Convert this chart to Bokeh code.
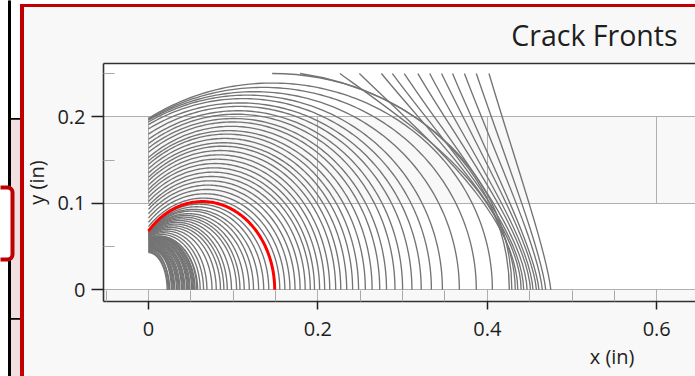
import numpy as np
from bokeh.plotting import figure
from bokeh.layouts import row, column
from bokeh.models import Range1d, FixedTicker, LinearAxis, Title, BoxAnnotation
from bokeh.embed import file_html
from bokeh.resources import INLINE

# ---------------- data (inches) ----------------
THICKNESS = 0.25

# part-through (corner) crack fronts: depth at the bore (x=0), max depth, surface length (y=0)
front_start_y = [
    0.043, 0.044, 0.044, 0.045, 0.045, 0.046, 0.046, 0.047, 0.048, 0.048,
    0.049, 0.049, 0.050, 0.050, 0.051, 0.052, 0.052, 0.053, 0.053, 0.054,
    0.054, 0.055, 0.056, 0.056, 0.057, 0.057, 0.058, 0.058, 0.059, 0.059, 0.060,
    0.060, 0.061, 0.061, 0.062, 0.062, 0.063, 0.063, 0.064, 0.064, 0.065,
    0.065, 0.066, 0.066, 0.066, 0.067, 0.067, 0.068,
    0.068,
    0.073, 0.078, 0.083, 0.088, 0.093, 0.097, 0.102, 0.107, 0.112, 0.116,
    0.121, 0.126, 0.130, 0.135, 0.140, 0.145, 0.149, 0.153, 0.159, 0.164,
    0.169, 0.174, 0.180, 0.186, 0.191, 0.194, 0.196, 0.197, 0.198]
front_peak_y = [
    0.043, 0.044, 0.045, 0.045, 0.046, 0.047, 0.047, 0.048, 0.049, 0.049,
    0.050, 0.051, 0.051, 0.052, 0.053, 0.053, 0.054, 0.055, 0.055, 0.056,
    0.057, 0.057, 0.058, 0.059, 0.059, 0.060, 0.060, 0.061, 0.061, 0.062, 0.062,
    0.064, 0.066, 0.068, 0.070, 0.072, 0.074, 0.076, 0.078, 0.080, 0.082,
    0.084, 0.086, 0.088, 0.091, 0.093, 0.096, 0.099,
    0.102,
    0.106, 0.111, 0.116, 0.121, 0.126, 0.131, 0.136, 0.141, 0.146, 0.151,
    0.156, 0.161, 0.166, 0.170, 0.175, 0.180, 0.184, 0.189, 0.194, 0.198,
    0.203, 0.207, 0.212, 0.216, 0.221, 0.225, 0.229, 0.234, 0.239]
front_end_x = [
    0.022, 0.023, 0.024, 0.025, 0.027, 0.028, 0.029, 0.030, 0.031, 0.033,
    0.034, 0.035, 0.036, 0.037, 0.039, 0.040, 0.041, 0.042, 0.043, 0.045,
    0.046, 0.047, 0.048, 0.049, 0.051, 0.052, 0.053, 0.054, 0.055, 0.057, 0.058,
    0.061, 0.065, 0.069, 0.075, 0.080, 0.085, 0.089, 0.093, 0.098, 0.104,
    0.108, 0.113, 0.119, 0.124, 0.130, 0.136, 0.142,
    0.149,
    0.155, 0.161, 0.167, 0.173, 0.179, 0.185, 0.191, 0.196, 0.202, 0.208,
    0.214, 0.221, 0.227, 0.234, 0.241, 0.248, 0.256, 0.264, 0.273, 0.281,
    0.291, 0.300, 0.311, 0.322, 0.334, 0.347, 0.367, 0.387, 0.406]
RED_FRONT = 48

# through-thickness fronts: x at back face (y=THICKNESS), x at front face (y=0), curve handles
thru_top_x = [0.146, 0.179, 0.226, 0.249, 0.275, 0.288, 0.302, 0.318, 0.332, 0.346, 0.359, 0.373, 0.387, 0.402]
thru_bot_x = [0.426, 0.429, 0.433, 0.436, 0.440, 0.443, 0.447, 0.451, 0.454, 0.458, 0.461, 0.465, 0.469, 0.475]
thru_c0x = [0.301, 0.319, 0.324, 0.324, 0.339, 0.348, 0.358, 0.370, 0.379, 0.390, 0.398, 0.409, 0.420, 0.431]
thru_c0y = [0.250, 0.230, 0.181, 0.178, 0.173, 0.170, 0.167, 0.164, 0.162, 0.160, 0.158, 0.157, 0.155, 0.154]
thru_c1x = [0.426, 0.429, 0.432, 0.435, 0.439, 0.441, 0.444, 0.447, 0.450, 0.453, 0.456, 0.460, 0.464, 0.470]
thru_c1y = [0.138, 0.130, 0.110, 0.090, 0.080, 0.075, 0.070, 0.065, 0.060, 0.055, 0.050, 0.050, 0.045, 0.045]

x_ticks = [0, 0.2, 0.4, 0.6]
x_minor = [-0.05, 0.05, 0.1, 0.15, 0.25, 0.3, 0.35, 0.45, 0.5, 0.55, 0.65]
y_ticks = [0, 0.1, 0.2]
y_minor = [0.05, 0.15, 0.25]

FONT = "Open Sans"
TEXT = "#1e1e1e"
GRAY = "#747474"
RED = "#ff0000"
DARKRED = "#c00000"
PANEL = "#f8f8f8"


def front_xy(y0, h, xe, n=120):
    k = np.sqrt(max(0.0, 1.0 - (y0 / h) ** 2))
    a = xe / (1.0 + k)
    cx = k * a
    th = np.linspace(np.arccos(-k), 0.0, n)
    return cx + a * np.cos(th), h * np.sin(th)


# ---------------- left strip (window chrome) ----------------
strip = figure(width=20, height=376, x_range=Range1d(0, 20), y_range=Range1d(376, 0),
               output_backend="svg", toolbar_location=None, min_border=0,
               x_axis_type=None, y_axis_type=None, title=None)
strip.outline_line_color = None
strip.background_fill_color = "white"
strip.border_fill_color = "white"
strip.quad(left=[10], right=[20], top=[118], bottom=[376], color="#f2dfdf")
strip.quad(left=[8], right=[10], top=[0], bottom=[376], color="black")
strip.quad(left=[9, 9], right=[20, 20], top=[117.5, 317.5], bottom=[119.3, 319.3],
           color="black", line_width=0)
strip.add_layout(BoxAnnotation(left=-8, right=12, top=187, bottom=259, fill_color="white",
                               fill_alpha=1, line_color=DARKRED, line_alpha=1, line_width=4,
                               border_radius=5))

# panel chrome behind the plot: white gap, red top and left borders, light panel fill
panel_css = ("linear-gradient({r},{r}) 0px 4px / 100% 3px no-repeat, "
             "linear-gradient({r},{r}) 0px 4px / 4px 100% no-repeat, "
             "linear-gradient(#ffffff,#ffffff) 0px 0px / 100% 4px no-repeat, {pnl}").format(r=DARKRED, pnl=PANEL)

# ---------------- main plot ----------------
p = figure(width=675, height=376, x_range=Range1d(-0.0531, 0.6458), y_range=Range1d(-0.0135, 0.2616),
           output_backend="svg", toolbar_location=None, title="Crack Fronts",
           min_border_left=83, min_border_right=0, min_border_top=63, min_border_bottom=75,
           styles={"background": panel_css})
p.background_fill_color = PANEL
p.border_fill_color = None
p.outline_line_color = None

xt = FixedTicker(ticks=x_ticks, minor_ticks=x_minor)
yt = FixedTicker(ticks=y_ticks, minor_ticks=y_minor)
p.xaxis.ticker = xt
p.yaxis.ticker = yt
p.xgrid.ticker = xt
p.ygrid.ticker = yt
for g in (p.xgrid[0], p.ygrid[0]):
    g.grid_line_color = "#b0b0b0"
    g.grid_line_width = 1
p.ygrid.band_fill_color = "white"
p.ygrid.band_fill_alpha = 1.0

for ax in (p.xaxis[0], p.yaxis[0]):
    ax.axis_line_color = "#303030"
    ax.axis_line_width = 1.6
    ax.major_tick_line_color = "#202020"
    ax.major_tick_line_width = 1.5
    ax.major_tick_in = 0
    ax.minor_tick_in = 11
    ax.minor_tick_out = 0
    ax.minor_tick_line_color = "#a8a8a8"
    ax.minor_tick_line_width = 1
    ax.major_label_text_font = FONT
    ax.major_label_text_font_size = "20px"
    ax.major_label_text_color = TEXT
    ax.major_label_overrides = {0: "0"}
p.xaxis.major_tick_out = 8
p.xaxis.major_label_standoff = 12
p.yaxis.major_tick_out = 12
p.yaxis.major_label_standoff = 6
p.yaxis.axis_label = "y (in)"
p.yaxis.axis_label_text_font = FONT
p.yaxis.axis_label_text_font_size = "20px"
p.yaxis.axis_label_text_font_style = "normal"
p.yaxis.axis_label_text_color = TEXT
p.yaxis.axis_label_standoff = 4

# top frame edge
top_axis = LinearAxis(ticker=FixedTicker(ticks=[]), axis_line_color="#303030", axis_line_width=1.6,
                      major_tick_out=0, major_tick_in=0, minor_tick_out=0, minor_tick_in=0,
                      major_label_standoff=0, major_label_text_font_size="0px")
p.add_layout(top_axis, "above")

p.title.align = "right"
p.title.offset = 18
p.title.text_font = FONT
p.title.text_font_size = "28.5px"
p.title.text_font_style = "normal"
p.title.text_color = TEXT
p.title.standoff = 20

xlab = Title(text="x (in)", align="right", offset=61, text_font=FONT, text_font_size="20px",
             text_font_style="normal", text_color=TEXT, standoff=5)
p.add_layout(xlab, "below")

# white bore region to the left of x = 0
p.quad(left=[-0.06], right=[0], bottom=[0.043], top=[0.0995], fill_color="white",
       line_color=None, level="underlay")

gx, gy = [], []
for i, (y0, h, xe) in enumerate(zip(front_start_y, front_peak_y, front_end_x)):
    if i == RED_FRONT:
        continue
    fx, fy = front_xy(y0, h, xe)
    gx.append(fx)
    gy.append(fy)
p.multi_line(gx, gy, line_color=GRAY, line_width=1.35)

n_thru = len(thru_top_x)
p.bezier(x0=thru_top_x, y0=[THICKNESS] * n_thru, x1=thru_bot_x, y1=[0.0] * n_thru,
         cx0=thru_c0x, cy0=thru_c0y, cx1=thru_c1x, cy1=thru_c1y,
         line_color=GRAY, line_width=1.35)

rx, ry = front_xy(front_start_y[RED_FRONT], front_peak_y[RED_FRONT], front_end_x[RED_FRONT])
p.line(rx, ry, line_color=RED, line_width=3)

layout = row(strip, column(p, spacing=0), spacing=0)
open("out.html", "w").write(file_html(layout, INLINE))
